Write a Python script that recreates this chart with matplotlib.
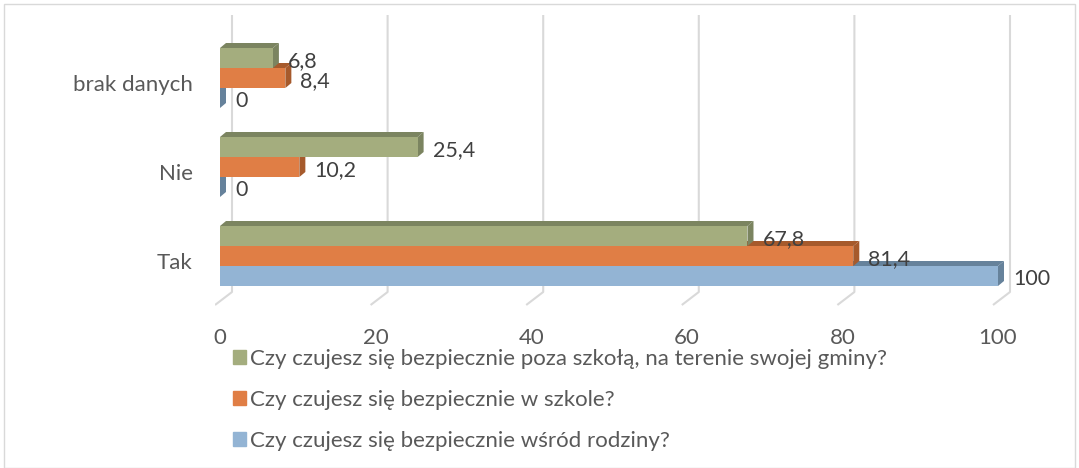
import matplotlib.pyplot as plt
import matplotlib.transforms as mtransforms
from matplotlib.patches import Polygon, Patch, Rectangle

categories = ["Tak", "Nie", "brak danych"]
series = [
    "Czy czujesz się bezpiecznie poza szkołą, na terenie swojej gminy?",
    "Czy czujesz się bezpiecznie w szkole?",
    "Czy czujesz się bezpiecznie wśród rodziny?",
]
gmina = [67.8, 25.4, 6.8]
szkola = [81.4, 10.2, 8.4]
rodzina = [100, 0, 0]
ticks = [0, 20, 40, 60, 80, 100]

front = ["#a4ad7e", "#e07e45", "#93b4d4"]
dark = ["#7b8460", "#a65a2c", "#66829b"]

plt.rcParams["font.family"] = ["Lato", "DejaVu Sans"]
W, H = 1079, 468
fig = plt.figure(figsize=(W / 100, H / 100), dpi=100)

# przeliczenie pikseli na wspolrzedne osi
px_x = 7.78
px_y = 89.0
ax = fig.add_axes([215 / W, 1 - 310 / H, (1030 - 215) / W, (310 - 15) / H])
ax.set_xlim(-5 / px_x, (1030 - 220) / px_x)
ax.set_ylim(-(310 - 256) / px_y, 2 + (78 - 15) / px_y)
for s in ax.spines.values():
    s.set_visible(False)

# siatka "3D"
gx_back = 12 / px_x
gx_front = -5 / px_x
y_back = -(292 - 256) / px_y
y_front = -(305 - 256) / px_y
for t in ticks:
    ax.plot([t + gx_back, t + gx_back, t + gx_front],
            [ax.get_ylim()[1], y_back, y_front],
            color="#d9d9d9", lw=1.5, zorder=0, solid_capstyle="butt")

h = 20 / px_y
dx = 6 / px_x
dy = 5 / px_y
offsets = [h, 0, -h]
order = [(2, rodzina), (1, szkola), (0, gmina)]
z = 1
for si, vals in order:
    for ci, v in enumerate(vals):
        yc = ci + offsets[si]
        yb, yt = yc - h / 2, yc + h / 2
        top = Polygon([(0, yt), (dx, yt + dy), (v + dx, yt + dy), (v, yt)],
                      closed=True, fc=dark[si], ec="none", zorder=z)
        side = Polygon([(v, yb), (v, yt), (v + dx, yt + dy), (v + dx, yb + dy)],
                       closed=True, fc=dark[si], ec="none", zorder=z)
        ax.add_patch(top)
        ax.add_patch(side)
        ax.barh(yc, v, height=h, color=front[si], zorder=z + 0.5)
        lab = ("%g" % v).replace(".", ",")
        ax.text(v + 15 / px_x, yc - 3 / px_y, lab, ha="left", va="center",
                fontsize=15.5, color="#404040", zorder=10)
    z += 1

ax.set_yticks([0, 1, 2])
ax.set_yticklabels(categories, fontsize=16, color="#595959")
ax.tick_params(axis="y", length=0, pad=16)
shift = mtransforms.ScaledTranslation(0, -5 / 100, fig.dpi_scale_trans)
for lbl in ax.get_yticklabels():
    lbl.set_transform(lbl.get_transform() + shift)
ax.set_xticks(ticks)
ax.set_xticklabels([str(t) for t in ticks], fontsize=16, color="#595959")
ax.tick_params(axis="x", length=0, pad=13)

handles = [Patch(color=front[i]) for i in range(3)]
fig.legend(handles, series, loc="upper left",
           bbox_to_anchor=(224 / W, 1 - 340 / H), frameon=False,
           fontsize=16, labelcolor="#595959", handlelength=0.6,
           handleheight=0.6, handletextpad=0.15, labelspacing=0.95,
           borderaxespad=0)

fig.patches.append(Rectangle((4 / W, 0), (W - 8) / W, 1 - 4 / H,
                             transform=fig.transFigure, fill=False,
                             ec="#d9d9d9", lw=1))
fig.savefig("out.png", dpi=100)
